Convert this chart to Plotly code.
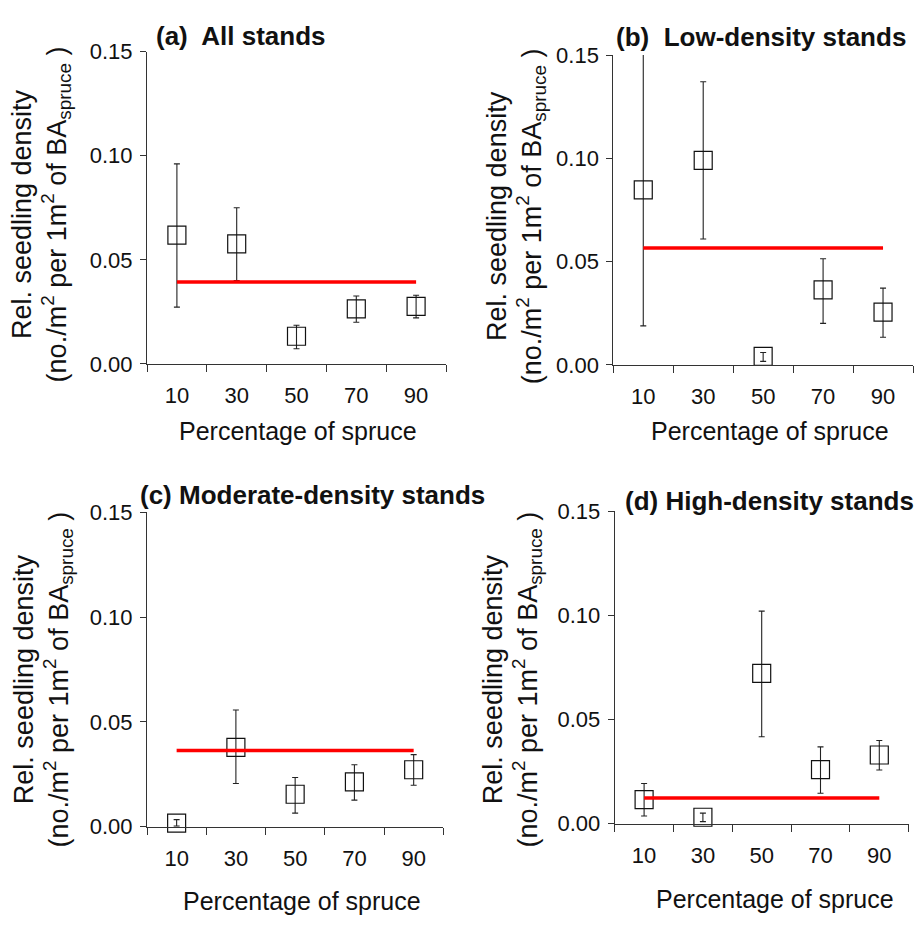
import plotly.graph_objects as go

W, H = 922, 927

categories = [10, 30, 50, 70, 90]

# Panel (a) All stands
a_mean = [0.0619, 0.0577, 0.0133, 0.0264, 0.0276]
a_upper = [0.0961, 0.0750, 0.0186, 0.0326, 0.0330]
a_lower = [0.0273, 0.0400, 0.0073, 0.0200, 0.0221]
a_ref = 0.0394

# Panel (b) Low-density stands
b_mean = [0.0848, 0.0990, 0.0041, 0.0363, 0.0256]
b_upper = [0.1600, 0.1371, 0.0060, 0.0514, 0.0372]
b_lower = [0.0189, 0.0610, 0.0017, 0.0201, 0.0134]
b_ref = 0.0566

# Panel (c) Moderate-density stands
c_mean = [0.0017, 0.0379, 0.0155, 0.0214, 0.0272]
c_upper = [0.0034, 0.0557, 0.0235, 0.0296, 0.0344]
c_lower = [0.0003, 0.0206, 0.0065, 0.0127, 0.0198]
c_ref = 0.0364

# Panel (d) High-density stands
d_mean = [0.0115, 0.0030, 0.0721, 0.0259, 0.0329]
d_upper = [0.0192, 0.0050, 0.1020, 0.0368, 0.0399]
d_lower = [0.0036, 0.0009, 0.0417, 0.0145, 0.0257]
d_ref = 0.0123

titles = ["<b>(a)&nbsp; All stands</b>", "<b>(b)&nbsp; Low-density stands</b>",
          "<b>(c) Moderate-density stands</b>", "<b>(d) High-density stands</b>"]
y_ticks = [0.0, 0.05, 0.10, 0.15]
x_boundaries = [0, 20, 40, 60, 80, 100]
x_title = "Percentage of spruce"
y_title = "Rel. seedling density<br>(no./m<sup>2</sup> per 1m<sup>2</sup> of BA<sub>spruce</sub> )"

FONT = "Liberation Sans, Arial, sans-serif"
AX = "#333333"

# pixel layout for each panel: plot box (x0, x1, ytop, ybottom)
boxes = [
    (147, 446, 40.7, 361.7),
    (613.3, 913, 44.3, 362.7),
    (147, 443.3, 514.3, 837.3),
    (614.7, 908.7, 513, 834),
]
title_pos = [(154, 25), (614, 26), (138, 496), (623, 503)]
ytitle_pos = [(41, 208), (516, 210), (43, 686), (512, 686)]
xtitle_pos = [(298, 431), (770, 431), (302, 914), (775, 912)]

panels = [
    (a_mean, a_upper, a_lower, a_ref),
    (b_mean, b_upper, b_lower, b_ref),
    (c_mean, c_upper, c_lower, c_ref),
    (d_mean, d_upper, d_lower, d_ref),
]

fig = go.Figure()
annotations = []

for i, (mean, upper, lower, ref) in enumerate(panels):
    n = i + 1
    xa = "x" if n == 1 else f"x{n}"
    ya = "y" if n == 1 else f"y{n}"
    plus = [u - m for u, m in zip(upper, mean)]
    minus = [m - l for m, l in zip(mean, lower)]
    # error bars (clipped to plot area)
    fig.add_trace(go.Scatter(
        x=categories, y=mean, mode="markers", xaxis=xa, yaxis=ya,
        marker=dict(size=1, color="rgba(0,0,0,0)"),
        error_y=dict(type="data", symmetric=False, array=plus, arrayminus=minus,
                     color="#222222", thickness=1.1, width=3),
        showlegend=False, hoverinfo="skip",
    ))
    # square markers
    fig.add_trace(go.Scatter(
        x=categories, y=mean, mode="markers", xaxis=xa, yaxis=ya,
        marker=dict(symbol="square-open", size=18, color="#111111",
                    line=dict(width=1.2, color="#111111")),
        cliponaxis=False, showlegend=False,
    ))
    # red reference line
    fig.add_trace(go.Scatter(
        x=[categories[0], categories[-1]], y=[ref, ref], mode="lines",
        xaxis=xa, yaxis=ya, line=dict(color="#ff0000", width=3.5),
        showlegend=False, hoverinfo="skip",
    ))

    x0, x1, yt, yb = boxes[i]
    xkey = "xaxis" if n == 1 else f"xaxis{n}"
    ykey = "yaxis" if n == 1 else f"yaxis{n}"
    fig.layout[xkey] = dict(
        domain=[x0 / W, x1 / W], anchor=ya, range=[0, 100],
        tickmode="array", tickvals=categories, ticktext=[str(c) for c in categories],
        ticks="", showgrid=False, zeroline=False,
        showline=True, linecolor=AX, linewidth=1,
        tickfont=dict(family=FONT, size=22, color="#111111"),
        ticklabelstandoff=12,
        minor=dict(tickmode="array", tickvals=x_boundaries, ticks="outside",
                   ticklen=7, tickwidth=1, tickcolor=AX, showgrid=False),
        fixedrange=True,
    )
    fig.layout[ykey] = dict(
        domain=[1 - yb / H, 1 - yt / H], anchor=xa, range=[0, 0.15],
        tickmode="array", tickvals=y_ticks, tickformat=".2f",
        ticks="outside", ticklen=6, tickwidth=1, tickcolor=AX,
        showgrid=False, zeroline=False,
        showline=True, linecolor=AX, linewidth=1,
        tickfont=dict(family=FONT, size=22, color="#111111"),
        ticklabelstandoff=3,
        fixedrange=True,
    )

    tx, ty = title_pos[i]
    annotations.append(dict(text=titles[i], x=tx / W, y=1 - ty / H, xref="paper", yref="paper",
                            xanchor="left", yanchor="middle", showarrow=False,
                            font=dict(family=FONT, size=26, color="#111111")))
    yx, yy = ytitle_pos[i]
    annotations.append(dict(text=y_title, x=yx / W, y=1 - yy / H, xref="paper", yref="paper",
                            xanchor="center", yanchor="middle", textangle=-90, showarrow=False,
                            font=dict(family=FONT, size=27, color="#111111")))
    xx, xy = xtitle_pos[i]
    annotations.append(dict(text=x_title, x=xx / W, y=1 - xy / H, xref="paper", yref="paper",
                            xanchor="center", yanchor="middle", showarrow=False,
                            font=dict(family=FONT, size=25, color="#111111")))

fig.update_layout(
    width=W, height=H, autosize=False,
    margin=dict(l=0, r=0, t=0, b=0),
    paper_bgcolor="white", plot_bgcolor="white",
    annotations=annotations, showlegend=False,
)

fig.write_html("out.html", config={"displayModeBar": False},
               post_script="document.body.style.margin='0';")
